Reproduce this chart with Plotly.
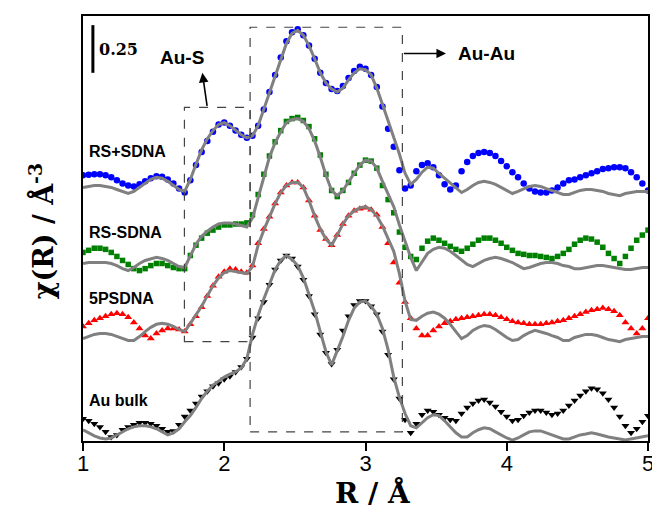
import numpy as np
import plotly.graph_objects as go

# R grid (Å)
R = np.round(1 + 0.04 * np.arange(101), 2)

# chi(R) values (offset-stacked, Å^-3)
rs_plus_data = [1.394, 1.396, 1.399, 1.399, 1.394, 1.383, 1.367, 1.351, 1.340, 1.335,
                1.346, 1.362, 1.378, 1.388, 1.386, 1.372, 1.351, 1.324, 1.303, 1.367,
                1.447, 1.516, 1.574, 1.622, 1.660, 1.670, 1.654, 1.628, 1.606, 1.590,
                1.601, 1.654, 1.739, 1.830, 1.920, 2.011, 2.096, 2.144, 2.160, 2.128,
                2.074, 2.005, 1.931, 1.878, 1.846, 1.835, 1.862, 1.904, 1.941, 1.963,
                1.952, 1.920, 1.856, 1.755, 1.638, 1.543, 1.420, 1.324, 1.340, 1.415,
                1.447, 1.457, 1.436, 1.394, 1.346, 1.319, 1.340, 1.415, 1.463, 1.495,
                1.511, 1.516, 1.511, 1.495, 1.468, 1.441, 1.410, 1.383, 1.351, 1.324,
                1.309, 1.303, 1.303, 1.314, 1.330, 1.351, 1.367, 1.372, 1.383, 1.394,
                1.404, 1.415, 1.426, 1.431, 1.436, 1.436, 1.431, 1.410, 1.383, 1.351,
                1.314]
rs_plus_fit = [1.330, 1.335, 1.340, 1.340, 1.335, 1.330, 1.319, 1.309, 1.298, 1.309,
               1.330, 1.351, 1.372, 1.383, 1.378, 1.362, 1.340, 1.319, 1.309, 1.372,
               1.452, 1.527, 1.585, 1.628, 1.660, 1.670, 1.654, 1.628, 1.606, 1.590,
               1.601, 1.654, 1.739, 1.830, 1.920, 2.005, 2.085, 2.138, 2.154, 2.128,
               2.074, 2.005, 1.931, 1.878, 1.846, 1.830, 1.851, 1.894, 1.931, 1.952,
               1.947, 1.920, 1.851, 1.766, 1.681, 1.601, 1.505, 1.404, 1.346, 1.372,
               1.410, 1.436, 1.431, 1.404, 1.378, 1.351, 1.324, 1.303, 1.319, 1.340,
               1.356, 1.362, 1.356, 1.346, 1.330, 1.314, 1.298, 1.309, 1.324, 1.335,
               1.340, 1.335, 1.324, 1.314, 1.303, 1.293, 1.293, 1.303, 1.314, 1.319,
               1.319, 1.314, 1.309, 1.298, 1.293, 1.287, 1.298, 1.303, 1.309, 1.309,
               1.309]

rs_minus_data = [0.989, 1.000, 1.011, 1.011, 1.005, 0.989, 0.968, 0.947, 0.926, 0.904,
                 0.894, 0.904, 0.920, 0.931, 0.931, 0.920, 0.910, 0.904, 0.904, 0.973,
                 1.027, 1.064, 1.090, 1.106, 1.122, 1.133, 1.133, 1.138, 1.138, 1.144,
                 1.186, 1.293, 1.399, 1.495, 1.569, 1.628, 1.676, 1.691, 1.697, 1.681,
                 1.649, 1.585, 1.500, 1.399, 1.314, 1.282, 1.314, 1.356, 1.404, 1.447,
                 1.473, 1.468, 1.431, 1.340, 1.266, 1.197, 1.096, 1.016, 0.968, 0.952,
                 1.011, 1.048, 1.064, 1.053, 1.037, 1.021, 1.005, 0.995, 1.011, 1.032,
                 1.053, 1.064, 1.064, 1.053, 1.037, 1.016, 1.000, 0.984, 0.979, 0.973,
                 0.973, 0.968, 0.963, 0.957, 0.968, 0.984, 1.005, 1.032, 1.053, 1.064,
                 1.059, 1.043, 1.016, 0.984, 0.957, 0.931, 0.968, 1.011, 1.053, 1.080,
                 1.106]
rs_minus_fit = [0.931, 0.936, 0.936, 0.936, 0.936, 0.931, 0.920, 0.904, 0.894, 0.910,
                0.931, 0.947, 0.957, 0.963, 0.957, 0.947, 0.931, 0.915, 0.910, 0.973,
                1.032, 1.074, 1.101, 1.122, 1.138, 1.144, 1.144, 1.138, 1.128, 1.122,
                1.170, 1.277, 1.388, 1.489, 1.564, 1.622, 1.670, 1.686, 1.691, 1.676,
                1.638, 1.574, 1.489, 1.394, 1.314, 1.287, 1.314, 1.356, 1.404, 1.447,
                1.473, 1.468, 1.431, 1.362, 1.293, 1.229, 1.133, 1.048, 0.963, 0.894,
                0.941, 0.984, 1.005, 1.016, 1.011, 0.995, 0.973, 0.947, 0.926, 0.915,
                0.931, 0.947, 0.957, 0.963, 0.957, 0.947, 0.936, 0.920, 0.904, 0.910,
                0.920, 0.931, 0.936, 0.936, 0.931, 0.920, 0.915, 0.904, 0.904, 0.910,
                0.915, 0.920, 0.920, 0.915, 0.910, 0.904, 0.899, 0.899, 0.904, 0.910,
                0.910]

ps5_data = [0.601, 0.617, 0.633, 0.644, 0.654, 0.665, 0.670, 0.665, 0.649, 0.622,
            0.590, 0.553, 0.537, 0.564, 0.580, 0.590, 0.590, 0.585, 0.574, 0.612,
            0.654, 0.702, 0.761, 0.814, 0.862, 0.888, 0.904, 0.899, 0.888, 0.883,
            0.920, 1.037, 1.112, 1.176, 1.245, 1.303, 1.340, 1.356, 1.356, 1.330,
            1.261, 1.181, 1.106, 1.059, 1.027, 1.080, 1.138, 1.181, 1.207, 1.218,
            1.223, 1.213, 1.186, 1.122, 1.037, 0.936, 0.830, 0.729, 0.644, 0.590,
            0.553, 0.553, 0.580, 0.601, 0.617, 0.628, 0.638, 0.644, 0.649, 0.654,
            0.660, 0.665, 0.665, 0.660, 0.649, 0.638, 0.628, 0.622, 0.617, 0.612,
            0.612, 0.612, 0.617, 0.622, 0.628, 0.633, 0.644, 0.654, 0.665, 0.676,
            0.686, 0.691, 0.697, 0.691, 0.681, 0.660, 0.622, 0.590, 0.564, 0.590,
            0.644]
ps5_fit = [0.537, 0.548, 0.559, 0.564, 0.564, 0.559, 0.548, 0.537, 0.527, 0.527,
           0.548, 0.574, 0.596, 0.612, 0.617, 0.612, 0.601, 0.585, 0.574, 0.617,
           0.660, 0.707, 0.761, 0.814, 0.856, 0.883, 0.894, 0.888, 0.883, 0.878,
           0.915, 1.027, 1.106, 1.176, 1.245, 1.303, 1.340, 1.356, 1.356, 1.330,
           1.261, 1.181, 1.112, 1.059, 1.027, 1.080, 1.138, 1.181, 1.207, 1.223,
           1.229, 1.213, 1.181, 1.128, 1.064, 0.995, 0.878, 0.734, 0.638, 0.633,
           0.654, 0.670, 0.676, 0.665, 0.644, 0.612, 0.574, 0.537, 0.553, 0.580,
           0.596, 0.606, 0.601, 0.585, 0.564, 0.543, 0.527, 0.532, 0.553, 0.569,
           0.580, 0.574, 0.564, 0.553, 0.543, 0.527, 0.527, 0.543, 0.553, 0.559,
           0.559, 0.553, 0.543, 0.532, 0.527, 0.521, 0.532, 0.537, 0.543, 0.548,
           0.548]

bulk_data = [0.117, 0.106, 0.090, 0.074, 0.048, 0.021, 0.032, 0.059, 0.074, 0.085,
             0.096, 0.096, 0.090, 0.080, 0.064, 0.048, 0.053, 0.085, 0.128, 0.160,
             0.197, 0.234, 0.261, 0.287, 0.303, 0.324, 0.340, 0.362, 0.388, 0.431,
             0.543, 0.644, 0.729, 0.819, 0.899, 0.947, 0.973, 0.957, 0.915, 0.846,
             0.761, 0.665, 0.559, 0.463, 0.404, 0.479, 0.580, 0.654, 0.713, 0.734,
             0.734, 0.707, 0.665, 0.574, 0.452, 0.324, 0.223, 0.112, 0.043, 0.090,
             0.138, 0.160, 0.154, 0.138, 0.122, 0.112, 0.106, 0.144, 0.176, 0.197,
             0.213, 0.218, 0.202, 0.181, 0.154, 0.128, 0.106, 0.112, 0.133, 0.149,
             0.160, 0.160, 0.149, 0.138, 0.144, 0.160, 0.186, 0.213, 0.239, 0.261,
             0.277, 0.271, 0.250, 0.218, 0.176, 0.128, 0.080, 0.043, 0.064, 0.101,
             0.133]
bulk_fit = [0.059, 0.043, 0.027, 0.016, 0.011, 0.016, 0.032, 0.048, 0.064, 0.074,
            0.080, 0.080, 0.074, 0.064, 0.048, 0.032, 0.043, 0.064, 0.101, 0.133,
            0.176, 0.223, 0.261, 0.293, 0.314, 0.335, 0.351, 0.362, 0.383, 0.431,
            0.559, 0.660, 0.745, 0.824, 0.899, 0.947, 0.973, 0.952, 0.920, 0.856,
            0.771, 0.681, 0.574, 0.468, 0.399, 0.473, 0.548, 0.633, 0.697, 0.729,
            0.734, 0.707, 0.665, 0.590, 0.479, 0.335, 0.229, 0.144, 0.080, 0.069,
            0.096, 0.122, 0.138, 0.133, 0.106, 0.074, 0.043, 0.021, 0.021, 0.043,
            0.059, 0.069, 0.064, 0.048, 0.032, 0.016, 0.005, 0.016, 0.032, 0.048,
            0.053, 0.053, 0.043, 0.032, 0.021, 0.011, 0.011, 0.021, 0.032, 0.037,
            0.043, 0.037, 0.027, 0.021, 0.016, 0.011, 0.005, 0.011, 0.016, 0.021,
            0.027]

x_ticks = [1, 2, 3, 4, 5]
sample_labels = ["RS+SDNA", "RS-SDNA", "5PSDNA", "Au bulk"]
label_y = [1.516, 1.096, 0.747, 0.213]
scale_bar = 0.25

series = [
    (rs_plus_data, rs_plus_fit, "#0000ff", "circle", 6.5),
    (rs_minus_data, rs_minus_fit, "#008000", "square", 5.5),
    (ps5_data, ps5_fit, "#ff0000", "triangle-up", 7),
    (bulk_data, bulk_fit, "#000000", "triangle-down", 7),
]

fig = go.Figure()
for data, fit, col, sym, sz in series:
    fig.add_trace(go.Scatter(x=R, y=data, mode="markers",
                             marker=dict(color=col, symbol=sym, size=sz, line=dict(width=0)),
                             showlegend=False, hoverinfo="skip"))
for data, fit, col, sym, sz in series:
    fig.add_trace(go.Scatter(x=R, y=fit, mode="lines",
                             line=dict(color="rgb(128,128,128)", width=3),
                             showlegend=False, hoverinfo="skip"))

box_style = dict(color="#444444", width=1.2, dash="dash")
# Au-S region box
fig.add_shape(type="rect", xref="x", yref="y", x0=1.718, x1=2.183, y0=0.521, y1=1.750,
              line=box_style, fillcolor="rgba(0,0,0,0)")
# Au-Au region box
fig.add_shape(type="rect", xref="x", yref="y", x0=2.183, x1=3.261, y0=0.048, y1=2.170,
              line=box_style, fillcolor="rgba(0,0,0,0)")
# scale bar
fig.add_shape(type="line", xref="x", yref="y", x0=1.070, x1=1.070,
              y0=2.181 - scale_bar, y1=2.181, line=dict(color="black", width=3))

lab_font = dict(family="Liberation Sans, Arial, sans-serif", size=16, color="black")
for txt, yv in zip(sample_labels, label_y):
    fig.add_annotation(x=1.028, y=yv, text="<b>%s</b>" % txt, showarrow=False,
                       xanchor="left", yanchor="middle", font=lab_font)

fig.add_annotation(x=1.10, y=2.051, text="<b>%g</b>" % scale_bar, showarrow=False,
                   xanchor="left", yanchor="middle",
                   font=dict(family="DejaVu Serif", size=16, color="black"))

big_font = dict(family="Liberation Sans, Arial, sans-serif", size=19, color="black")
fig.add_annotation(x=1.704, y=2.011, text="<b>Au-S</b>", showarrow=False, font=big_font)
fig.add_annotation(x=3.859, y=2.032, text="<b>Au-Au</b>", showarrow=False, font=big_font)

# arrows
fig.add_annotation(x=1.845, y=1.931, ax=1.880, ay=1.750, xref="x", yref="y",
                   axref="x", ayref="y", text="", showarrow=True,
                   arrowhead=2, arrowsize=1.2, arrowwidth=1.6, arrowcolor="black")
fig.add_annotation(x=3.570, y=2.032, ax=3.261, ay=2.032, xref="x", yref="y",
                   axref="x", ayref="y", text="", showarrow=True,
                   arrowhead=2, arrowsize=1.2, arrowwidth=1.6, arrowcolor="black")

# axis titles
fig.add_annotation(xref="paper", yref="paper", x=0.514, y=-0.122,
                   text="<b>R / Å</b>", showarrow=False, xanchor="center", yanchor="middle",
                   font=dict(family="DejaVu Serif", size=28, color="black"))
fig.add_annotation(xref="paper", yref="paper", x=-0.074, y=0.494,
                   text="<b>χ(R) / Å<sup>-3</sup></b>", showarrow=False, textangle=-90,
                   xanchor="center", yanchor="middle",
                   font=dict(family="DejaVu Serif", size=27, color="black"))

fig.update_xaxes(range=[1, 5], tickvals=x_ticks, ticktext=[str(t) for t in x_ticks],
                 ticks="outside", ticklen=8, tickwidth=1.5, tickcolor="black",
                 ticklabelstandoff=-6,
                 showline=True, linecolor="black", linewidth=1.5, mirror=True,
                 showgrid=False, zeroline=False,
                 tickfont=dict(family="Liberation Sans, Arial, sans-serif", size=22, color="black"))
fig.update_yaxes(range=[0, 2.229], showticklabels=False, ticks="",
                 showline=True, linecolor="black", linewidth=1.5, mirror=True,
                 showgrid=False, zeroline=False)

# page body adds an 8px margin, so the figure is sized to fill the remaining window
fig.update_layout(width=652, height=505, margin=dict(l=75, r=9, t=6, b=72),
                  plot_bgcolor="white", paper_bgcolor="white", showlegend=False)

fig.write_html("out.html")
